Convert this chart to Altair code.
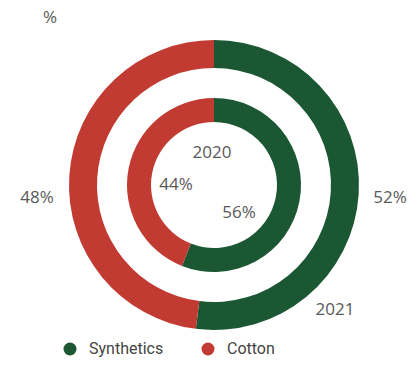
import altair as alt
import pandas as pd

years = ["2020", "2021"]
materials = ["Synthetics", "Cotton"]
share_2020 = [56, 44]
share_2021 = [52, 48]
colors = ["#1b5733", "#c23b32"]

rows = []
for yr, shares in zip(years, [share_2020, share_2021]):
    for i, (m, s) in enumerate(zip(materials, shares)):
        rows.append({"year": yr, "material": m, "share": s, "order": i})
df = pd.DataFrame(rows)

CX, CY = 206, 177
FONT = "Open Sans"
TXT = "#595959"

color = alt.Color(
    "material:N",
    scale=alt.Scale(domain=materials, range=colors),
    legend=alt.Legend(
        title=None, orient="none", legendX=54, legendY=333, direction="horizontal",
        symbolType="circle", symbolSize=169, symbolStrokeWidth=0,
        labelFontSize=16, labelFont="Roboto", labelColor="#444444",
        columnPadding=36, labelOffset=11, padding=0,
    ),
)


def ring(yr, r_out, r_in):
    return (
        alt.Chart(df)
        .transform_filter(alt.datum.year == yr)
        .mark_arc(radius=r_out, radius2=r_in)
        .encode(
            theta=alt.Theta("share:Q", stack=True, scale=alt.Scale(domain=[0, 100])),
            color=color,
            order=alt.Order("order:Q"),
            x=alt.value(CX),
            y=alt.value(CY),
        )
    )


def label(text, x, y):
    return (
        alt.Chart(pd.DataFrame({"t": [text]}))
        .mark_text(font=FONT, fontSize=17, color=TXT, align="center", baseline="middle")
        .encode(text="t:N", x=alt.value(x), y=alt.value(y))
    )


layers = [
    ring("2021", 145, 117),
    ring("2020", 87, 63),
    label(f"{share_2021[0]}%", 382, 190),
    label(f"{share_2021[1]}%", 29, 190),
    label(years[1], 327, 302),
    label(years[0], 204, 145),
    label(f"{share_2020[1]}%", 168, 177),
    label(f"{share_2020[0]}%", 231, 205),
    label("%", 42, 10),
]

chart = (
    alt.layer(*layers)
    .properties(width=403, height=371, padding=0, autosize=alt.AutoSizeParams(type="none"))
    .configure_view(stroke=None)
)

chart.save("out.html", embed_options={"renderer": "svg", "actions": False})
